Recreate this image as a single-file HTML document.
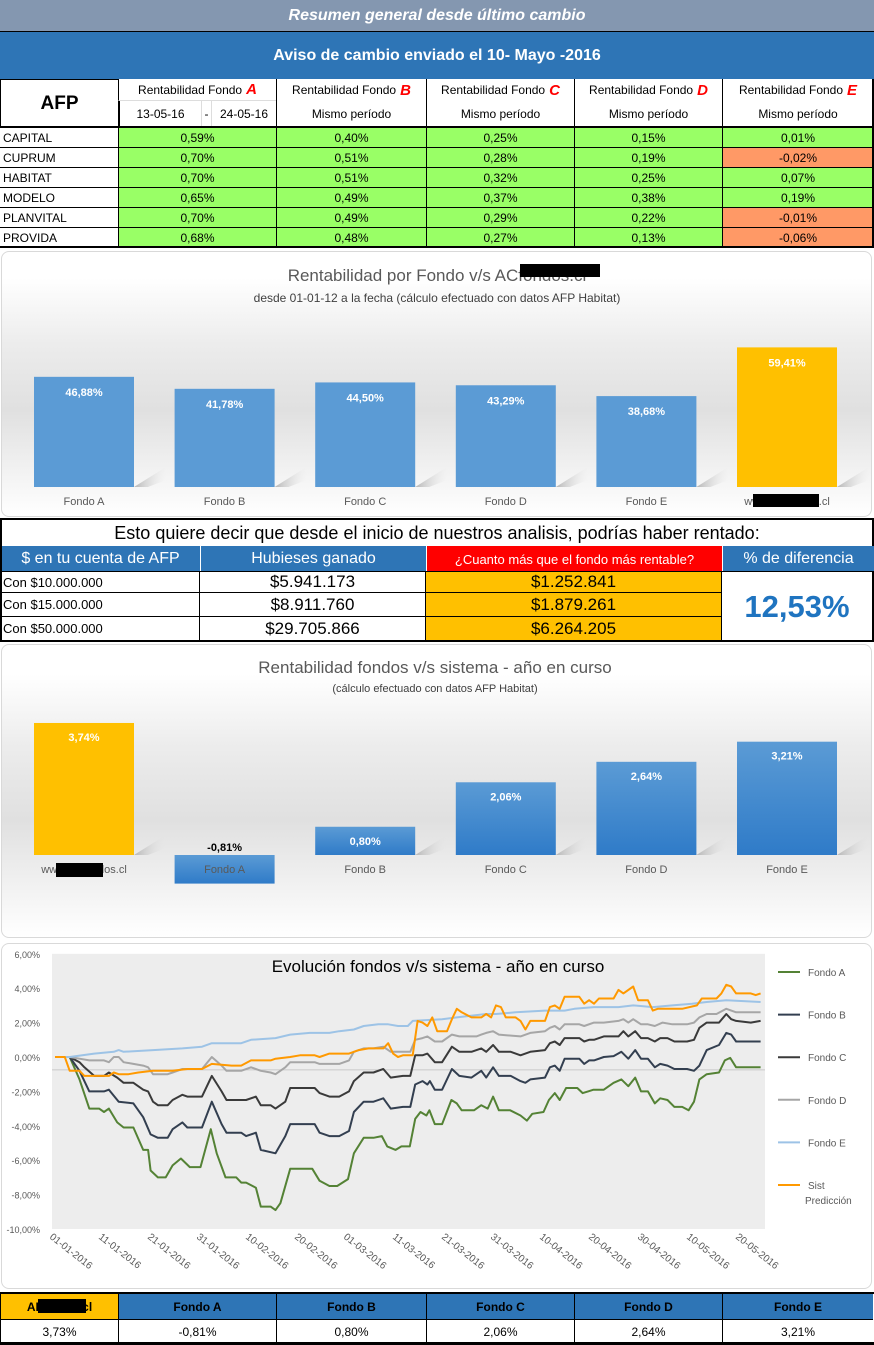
<!DOCTYPE html>
<html><head><meta charset="utf-8">
<style>
body{margin:0;width:874px;height:1345px;position:relative;background:#fff;font-family:"Liberation Sans",sans-serif;overflow:hidden}
.a{position:absolute;box-sizing:border-box}
.c{display:flex;align-items:center;justify-content:center;text-align:center}
.l{display:flex;align-items:center;padding-left:3px}
.g{background:#99ff66}.o{background:#ff9966}
.hb{border:1px solid #000}
.red{color:#ff0000;font-weight:bold;font-style:italic;font-size:15px;margin-left:4px}
.box{border:1px solid #d9d9d9;border-radius:8px;background:linear-gradient(#fff 10%,#ececec 35%,#e0e0e0 60%,#fff 100%)}
</style></head><body>

<div class="a c" style="left:0;top:0;width:874px;height:32px;background:#8497b0;color:#fff;font-weight:bold;font-style:italic;font-size:16px;border-bottom:1px solid #000">Resumen general desde último cambio</div>
<div class="a c" style="left:0;top:32px;width:874px;height:47px;background:#2e75b6;color:#fff;font-weight:bold;font-size:16px">Aviso de cambio enviado el 10- Mayo -2016</div>

<div class="a box" style="left:1px;top:251px;width:871px;height:266px"></div>
<div class="a box" style="left:1px;top:644px;width:871px;height:294px"></div>
<div class="a box" style="left:1px;top:943px;width:871px;height:346px;background:#fff"></div>

<div id="t1"></div>
<div id="t2"></div>
<div id="t3"></div>

<svg id="c1" class="a" style="left:0;top:0" width="874" height="1345"></svg>
<svg id="c3" class="a" style="left:0;top:942px" width="874" height="348"></svg>

<script>
// ---------- Tables ----------
function div(parent,cls,x,y,w,h,html,style){const d=document.createElement('div');d.className='a '+cls;d.style.cssText=`left:${x}px;top:${y}px;width:${w}px;height:${h}px;`+(style||'');d.innerHTML=html;parent.appendChild(d);return d;}
const cols=[0,118,276,426,574,722,873];
const afps=["CAPITAL","CUPRUM","HABITAT","MODELO","PLANVITAL","PROVIDA"];
const fA=["0,59%","0,70%","0,70%","0,65%","0,70%","0,68%"];
const fB=["0,40%","0,51%","0,51%","0,49%","0,49%","0,48%"];
const fC=["0,25%","0,28%","0,32%","0,37%","0,29%","0,27%"];
const fD=["0,15%","0,19%","0,25%","0,38%","0,22%","0,13%"];
const fE=["0,01%","-0,02%","0,07%","0,19%","-0,01%","-0,06%"];
const t1=document.getElementById('t1');
let d=div(t1,'c hb',0,79,119,48,'AFP','font-weight:bold;font-size:19px;border-bottom:none');

const letters=["A","B","C","D","E"];
for(let i=0;i<5;i++){
 d=div(t1,'c',cols[i+1],79,cols[i+2]-cols[i+1],22,'Rentabilidad Fondo<span class="red">'+letters[i]+'</span>','font-size:12px;border-left:1px solid #000;'+(i==0?'border-bottom:1px solid #ddd;':''));
 
 if(i>0){d=div(t1,'c',cols[i+1],101,cols[i+2]-cols[i+1],26,'Mismo período','font-size:12px;border-left:1px solid #000');
 }
}
d=div(t1,'c',119,101,82,26,'13-05-16','font-size:12px;border-left:1px solid #000');
d=div(t1,'c',201,101,11,26,'-','font-size:12px;border-left:1px solid #ddd;border-right:1px solid #ddd');
d=div(t1,'c',212,101,64,26,'24-05-16','font-size:12px');
div(t1,'',0,126,874,2,'','background:#000');
const vals=[fA,fB,fC,fD,fE];
for(let r=0;r<6;r++){
 const y=128+r*20;
 d=div(t1,'l',0,y,118,20,afps[r],'font-size:12px;border-bottom:1px solid #000');
 
 for(let i=0;i<5;i++){
  const neg=vals[i][r].startsWith('-');
  d=div(t1,'c '+(neg?'o':'g'),cols[i+1],y,cols[i+2]-cols[i+1],20,vals[i][r],'font-size:12px;border-left:1px solid #000;border-bottom:1px solid #000');
  
 }
}
div(t1,'',0,246,874,2,'','background:#000');div(t1,'',872,79,2,169,'','background:#000');

const t2=document.getElementById('t2');
div(t2,'',0,518,874,2,'','background:#000');
d=div(t2,'c',0,520,874,26,'Esto quiere decir que desde el inicio de nuestros analisis, podrías haber rentado:','font-size:18px;border-left:2px solid #000;border-right:2px solid #000;background:#fff');

const eh=["$ en tu cuenta de AFP","Hubieses ganado","¿Cuanto más que el fondo más rentable?","% de diferencia"];
const ec=[0,200,426,722,874];const ebg=["#2e75b6","#2e75b6","#ff0000","#2e75b6"];
for(let i=0;i<4;i++){d=div(t2,'c',ec[i],546,ec[i+1]-ec[i],26,eh[i],`background:${ebg[i]};color:#fff;font-size:${i==2?13:16}px;border-left:1px solid #fff`);
}
const acct=["Con $10.000.000","Con $15.000.000","Con $50.000.000"];
const gan=["$5.941.173","$8.911.760","$29.705.866"];
const mas=["$1.252.841","$1.879.261","$6.264.205"];
const ry=[572,593,617,641];
div(t2,'',0,571,874,2,'','background:#000');
for(let r=0;r<3;r++){
 d=div(t2,'l',0,ry[r],200,ry[r+1]-ry[r],acct[r],'font-size:13px;border-bottom:1px solid #000;border-right:1px solid #000;background:#fff');
 d=div(t2,'c',200,ry[r],226,ry[r+1]-ry[r],gan[r],'font-size:17px;border-bottom:1px solid #000;border-right:1px solid #000;background:#fff');
 d=div(t2,'c',426,ry[r],296,ry[r+1]-ry[r],mas[r],'font-size:17px;background:#ffc000;border-bottom:1px solid #000;border-right:1px solid #000');
}
d=div(t2,'c',722,572,152,69,'12,53%','font-size:31px;font-weight:bold;color:#1f74c0;border-right:2px solid #000;background:#fff');
div(t2,'',0,640,874,2,'','background:#000');div(t2,'',0,520,2,121,'','background:#000');

const t3=document.getElementById('t3');
div(t3,'',0,1292,874,2,'','background:#000');
const bh=["AFondos.cl","Fondo A","Fondo B","Fondo C","Fondo D","Fondo E"];
const bv=["3,73%","-0,81%","0,80%","2,06%","2,64%","3,21%"];
for(let i=0;i<6;i++){
 d=div(t3,'c',cols[i],1294,cols[i+1]-cols[i],25,bh[i],`font-size:12px;font-weight:bold;background:${i==0?'#ffc000':'#2e75b6'};color:#000;border-left:1px solid #000`);
 
 d=div(t3,'c',cols[i],1319,cols[i+1]-cols[i],24,bv[i],'font-size:12px;border-left:1px solid #000;border-top:1px solid #000');
 
}
div(t3,'',38,1299,48,14,'','background:#000');
div(t3,'',0,1342,874,3,'','background:#000');
</script>

<script>
// ---------- Bar charts ----------
const barCats1=["Fondo A","Fondo B","Fondo C","Fondo D","Fondo E","www.ACfondos.cl"];
const barVals1=[46.88,41.78,44.50,43.29,38.68,59.41];
const barLabels1=["46,88%","41,78%","44,50%","43,29%","38,68%","59,41%"];
const barCats2=["www.ACfondos.cl","Fondo A","Fondo B","Fondo C","Fondo D","Fondo E"];
const barVals2=[3.74,-0.81,0.80,2.06,2.64,3.21];
const barLabels2=["3,74%","-0,81%","0,80%","2,06%","2,64%","3,21%"];
const svg1=document.getElementById('c1');
function el(p,t,a,txt){const e=document.createElementNS("http://www.w3.org/2000/svg",t);for(const k in a)e.setAttribute(k,a[k]);if(txt!==undefined)e.textContent=txt;p.appendChild(e);return e;}
const defs=el(svg1,'defs',{});
const lg=el(defs,'linearGradient',{id:'bg2',x1:0,y1:0,x2:0,y2:1});
el(lg,'stop',{offset:0,'stop-color':'#5b9bd5'});el(lg,'stop',{offset:1,'stop-color':'#2f7bc8'});
const sg=el(defs,'linearGradient',{id:'shg',x1:0,y1:0,x2:1,y2:0});
el(sg,'stop',{offset:0,'stop-color':'#b5b5b5'});el(sg,'stop',{offset:1,'stop-color':'#e6e6e6','stop-opacity':0});
const xb=i=>34+i*140.6;
let t=el(svg1,'text',{x:437,y:281,'text-anchor':'middle','font-size':17,fill:'#595959'},'Rentabilidad por Fondo v/s ACfondos.cl');

el(svg1,'rect',{x:520,y:264,width:80,height:13,fill:'#000'});
t=el(svg1,'text',{x:437,y:302,'text-anchor':'middle','font-size':12,fill:'#404040'},'desde 01-01-12 a la fecha (cálculo efectuado con datos AFP Habitat)');

const y1=v=>487-v*2.35;
barVals1.forEach((v,i)=>{
 const x=xb(i);
 el(svg1,'polygon',{points:`${x+100},487 ${x+132},467 ${x+132},480 ${x+114},487`,fill:'url(#shg)'});
 const r=el(svg1,'rect',{x:x,y:y1(v),width:100,height:487-y1(v),fill:i==5?'#ffc000':'#5b9bd5'});
 
 
 const lb=el(svg1,'text',{x:x+50,y:y1(v)+19,'text-anchor':'middle','font-size':11,'font-weight':'bold',fill:'#fff'},barLabels1[i]);
 
 
 const cl=el(svg1,'text',{x:x+50,y:505,'text-anchor':'middle','font-size':11,fill:'#595959'},barCats1[i]);
 
 
});
el(svg1,'rect',{x:753,y:494,width:66,height:13,fill:'#000'});
t=el(svg1,'text',{x:435,y:673,'text-anchor':'middle','font-size':17,fill:'#595959'},'Rentabilidad fondos v/s sistema - año en curso');

t=el(svg1,'text',{x:435,y:692,'text-anchor':'middle','font-size':11,fill:'#404040'},'(cálculo efectuado con datos AFP Habitat)');

const y2=v=>855-v*35.3;
barVals2.forEach((v,i)=>{
 const x=xb(i);
 if(v>0) el(svg1,'polygon',{points:`${x+100},855 ${x+132},835 ${x+132},848 ${x+114},855`,fill:'url(#shg)'});
 const top=Math.min(y2(v),855),h=Math.abs(y2(v)-855);
 const r=el(svg1,'rect',{x:x,y:top,width:100,height:h,fill:i==0?'#ffc000':'url(#bg2)'});
 
 
 const ly=v>0?top+18:851;
 const lb=el(svg1,'text',{x:x+50,y:ly,'text-anchor':'middle','font-size':11,'font-weight':'bold',fill:v>0?'#fff':'#000'},barLabels2[i]);
 
 
 const cl=el(svg1,'text',{x:x+50,y:873,'text-anchor':'middle','font-size':11,fill:'#595959'},barCats2[i]);
 
 
});
el(svg1,'rect',{x:56,y:863,width:47,height:14,fill:'#000'});
</script>

<script>
// ---------- Line chart ----------
const aDays=[0,3,5,7,9,10,11,12.7,14,16,18,19,19.5,21,22.6,24,25.7,27.5,29.7,31.8,33,34.8,37,38,39,41,42,44,45,46,48,50,52.5,54,56,57.6,59.8,61,63,65,66.7,67.8,69.5,70.7,72.4,73.5,74.6,75.8,76.4,77.5,79,80.9,82,83,85.5,87,88.3,89.4,90.6,92.9,95,96.3,97.4,99.7,100.8,102,103,104.3,106.6,107.7,108.8,109.9,112,114,115.6,117,118.4,119.6,121,122.4,123.5,125,126.4,128,129.3,130.4,131.5,133,135.5,136.7,137.8,139,141.7,144];
const aVals=[0,0,-1.3,-3.0,-3.0,-3.2,-3.0,-3.8,-4.1,-4.1,-5.4,-5.4,-6.6,-7.0,-7.0,-6.3,-5.9,-6.4,-6.4,-4.2,-5.6,-7.0,-7.0,-7.3,-7.3,-7.6,-8.7,-8.7,-8.9,-8.5,-6.5,-6.5,-6.5,-7.2,-7.5,-7.5,-7.1,-5.6,-4.7,-4.7,-4.6,-5.2,-5.4,-5.2,-5.2,-3.6,-3.2,-3.4,-3.1,-3.9,-3.9,-2.5,-2.7,-3.1,-3.1,-2.8,-3.0,-2.3,-3.1,-3.1,-3.4,-3.7,-3.3,-3.2,-2.5,-2.1,-2.5,-1.8,-1.8,-2.1,-2.0,-1.9,-1.9,-1.5,-1.3,-1.7,-1.2,-2.0,-2.0,-2.7,-2.4,-2.5,-2.9,-2.9,-3.1,-2.6,-1.3,-1.0,-0.9,-0.2,-0.05,-0.6,-0.6,-0.6];
const bDays=[0,3,5,7,10,11,13,16,18,19.5,21,23,24,26,27,30,32,34,35,38,39,41,42,45,47,48,53,54,56,58,60,61,63,65,67,68.5,71,72.5,73.5,75,76,76.5,77.5,79,81,82.5,85,87,88,89.4,90.6,93,95,96,97,100,101,102,103,104,107,108,109,110,112,114,115.6,117,118.4,119.6,121,122.4,123.5,125,126.4,129,130.4,131.5,133,135.5,137,138,139,142,144];
const bVals=[0,0,-0.8,-2.0,-2.0,-1.9,-2.6,-2.7,-3.5,-4.5,-4.7,-4.7,-4.2,-3.8,-4.1,-4.1,-2.6,-3.9,-4.4,-4.4,-4.6,-4.4,-5.4,-5.6,-4.6,-3.9,-3.9,-4.4,-4.6,-4.6,-4.3,-3.2,-2.6,-2.6,-2.4,-3.0,-2.9,-2.9,-1.6,-1.4,-1.6,-1.4,-1.9,-1.9,-0.7,-1.1,-1.2,-0.8,-1.2,-0.6,-1.1,-1.1,-1.4,-1.5,-1.3,-1.2,-0.6,-0.5,-0.8,-0.1,-0.1,-0.4,-0.2,-0.2,0,0.05,0.3,-0.1,0.4,-0.1,-0.1,-0.6,-0.4,-0.5,-0.7,-0.7,-0.8,-0.5,0.4,0.7,1.4,1.3,0.9,0.9,0.9];
const cDays=[0,3,5,6,8,10,11,12.7,14,16,18,19,20,21,23,24,26,27,30,32,34,35,38,39,41,42,44,45,47,48,53,54,56,58,60,61,63,65,67,68.5,71,72.5,73.5,75,76,77.5,79,81,82.5,85,87,88,89.4,90.6,93,95,97,100,101,102,103,104,107,108,109,110,112,115,116,117,118.4,119.6,121,122.4,123.5,125,126.4,129,130.4,131.5,133,135.5,137,138,139,142,144];
const cVals=[0,0,-0.3,-0.6,-1.1,-1.1,-0.9,-1.2,-1.5,-1.5,-1.9,-2.0,-2.6,-2.8,-2.8,-2.5,-2.2,-2.3,-2.3,-1.1,-2.0,-2.5,-2.5,-2.5,-2.3,-2.8,-2.8,-3.0,-2.6,-1.8,-1.8,-2.1,-2.3,-2.3,-2.0,-1.4,-0.9,-0.9,-0.7,-1.2,-1.1,-1.1,0.1,0.1,0.2,-0.3,-0.3,0.6,0.3,0.3,0.5,0.3,0.7,0.3,0.3,0.1,0.3,0.4,0.8,0.9,0.7,1.1,1.1,0.9,1.0,1.0,1.2,1.2,1.5,1.2,1.5,1.1,1.1,0.9,1.1,1.1,0.9,0.9,1.0,1.7,2.0,2.0,2.5,2.2,2.1,2.0,2.1];
const dDays=[0,3,5,7,10,11,12,13,14,16,18,19,20,23,24,26,30,32,34,35,38,40,42,44,45,47,48,53,54,56,58,60,61,63,65,67,68.5,72.5,73.5,75,76,77.5,79,81,82.5,86,87,88,89.4,90.6,95,97,100,101,102,103,104,107,108,110,112,115,116,117,118,119.6,121,122.4,124,126,129,130.4,131.5,133,135,137,138,139,142,144];
const dVals=[0,0,-0.1,-0.2,-0.2,-0.3,0,0,-0.3,-0.4,-0.5,-0.6,-1.0,-1.0,-0.9,-0.7,-0.7,0,-0.5,-0.8,-0.8,-0.6,-0.8,-0.9,-1.0,-0.6,-0.3,-0.3,-0.4,-0.4,-0.4,-0.2,0.3,0.5,0.5,0.6,0.3,0.3,1.0,1.1,1.2,0.9,0.9,1.3,1.2,1.2,1.3,1.4,1.5,1.3,1.2,1.4,1.5,1.7,1.8,1.6,1.9,1.9,1.8,2.0,2.0,2.1,2.2,2.0,2.2,1.9,1.9,1.8,2.0,1.9,1.9,2.0,2.3,2.5,2.5,2.8,2.7,2.6,2.6,2.6];
const eDays=[0,3,8,12,13,14,20,26,30,32,38,40,45,48,52,56,58,61,63,66,68,70,72,73,79,82,88,90,94,100,104,106,110,115,118,122,126,130,133,137,144];
const eVals=[0,0,0.2,0.3,0.4,0.3,0.4,0.5,0.6,0.8,0.8,1.0,1.1,1.3,1.4,1.4,1.5,1.6,1.8,1.9,1.9,1.8,1.8,2.1,2.2,2.3,2.5,2.5,2.6,2.7,2.7,2.8,2.9,2.9,3.0,2.9,3.0,3.1,3.2,3.3,3.2];
const sDays=[0,2,3,5,6,9,11,12,13,15,17,20,24,27,30,32,36,38,40,44,45,48,50,53,54,56,60,62,64,67,68,69,70,71,73,74,75,76,77,78,80,81,82,83,85,87,88,89,90,91,92,94,95,96,97,100,101,102,103,104,107,108,109,110,111,114,115,116,118,119,121,122,123,128,131,132,135,136,137,138,139,142,143,144];
const sVals=[0,0,-0.8,-0.8,-1.1,-1.1,-1.1,-0.9,-1.0,-1.0,-0.9,-0.8,-0.8,-0.7,-0.7,-0.4,-0.5,-0.5,-0.2,-0.2,-0.1,0,0.1,0.1,0.0,0.2,0.2,0.4,0.5,0.5,0.8,0.2,0,0.1,0.1,2.1,2.0,1.8,2.3,1.5,1.5,2.2,2.8,2.6,2.3,2.3,2.5,2.3,3.0,2.9,2.3,2.3,2.1,1.6,2.1,2.1,2.9,3.0,2.8,3.5,3.5,3.1,3.3,3.1,3.4,3.4,3.9,3.7,4.1,3.3,3.3,2.7,2.8,2.8,3.0,3.4,3.4,3.7,4.2,4.1,3.7,3.7,3.6,3.7];
const yTicks=[6,4,2,0,-2,-4,-6,-8,-10];
const yTickLabels=["6,00%","4,00%","2,00%","0,00%","-2,00%","-4,00%","-6,00%","-8,00%","-10,00%"];
const xTickDays=[0,10,20,30,40,50,60,70,80,90,100,110,120,130,140];
const xTickLabels=["01-01-2016","11-01-2016","21-01-2016","31-01-2016","10-02-2016","20-02-2016","01-03-2016","11-03-2016","21-03-2016","31-03-2016","10-04-2016","20-04-2016","30-04-2016","10-05-2016","20-05-2016"];
const seriesNames=["Fondo A","Fondo B","Fondo C","Fondo D","Fondo E","Sist"];

const svg3=document.getElementById('c3');
const X=d=>55+d*4.9;
const Y=v=>115-v*17.2;
function el3(t,a,txt){const e=document.createElementNS("http://www.w3.org/2000/svg",t);for(const k in a)e.setAttribute(k,a[k]);if(txt!==undefined)e.textContent=txt;svg3.appendChild(e);return e;}
let pa=el3('rect',{x:52,y:Y(6),width:713,height:Y(-10)-Y(6),fill:'#ededed'});

el3('line',{x1:52,x2:765,y1:Y(-0.75),y2:Y(-0.75),stroke:'#c8c8c8','stroke-width':1});
yTicks.forEach((v,i)=>{
 const tl=el3('text',{x:40,y:Y(v)+4,'text-anchor':'end','font-size':9,fill:'#595959'},yTickLabels[i]);
 
 
});
xTickDays.forEach((d,i)=>{
 const tl=el3('text',{x:X(d)-6,y:296,'font-size':10,fill:'#595959',transform:`rotate(38 ${X(d)-6} 296)`},xTickLabels[i]);
 
 
});
let ti=el3('text',{x:438,y:30,'text-anchor':'middle','font-size':17,fill:'#000'},'Evolución  fondos  v/s sistema  - año en curso');

const series=[[aDays,aVals,'#548235'],[bDays,bVals,'#333f50'],[cDays,cVals,'#3a3a3a'],[dDays,dVals,'#a6a6a6'],[eDays,eVals,'#9dc3e6'],[sDays,sVals,'#ff9900']];
series.forEach((s,k)=>{
 const pts=s[0].map((d,i)=>X(d).toFixed(1)+','+Y(s[1][i]).toFixed(1)).join(' ');
 const pl=el3('polyline',{points:pts,fill:'none',stroke:s[2],'stroke-width':2,'stroke-linejoin':'round'});
 
 
 const ly=30+k*42.6;
 const sw=el3('line',{x1:778,x2:800,y1:ly,y2:ly,stroke:s[2],'stroke-width':2});
 
 
 const lt=el3('text',{x:808,y:ly+4,'font-size':10,fill:'#595959'},seriesNames[k]);
 
 
});
const pt=el3('text',{x:805,y:262,'font-size':10,fill:'#595959'},'Predicción');


</script>
</body></html>
